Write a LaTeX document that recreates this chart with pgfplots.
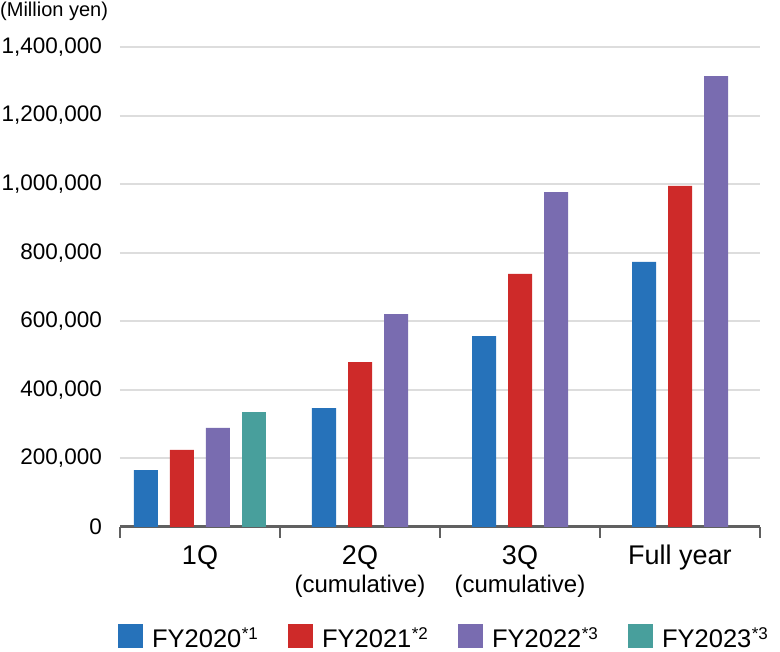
\documentclass[border=0pt]{standalone}
\usepackage{fontspec}
\setmainfont{Liberation Sans}
\usepackage{pgfplots}
\pgfplotsset{compat=1.18}

\definecolor{fyblue}{HTML}{2672BA}
\definecolor{fyred}{HTML}{CE2A29}
\definecolor{fypurple}{HTML}{796CB0}
\definecolor{fyteal}{HTML}{489F9C}
\definecolor{axisgray}{HTML}{606060}
\definecolor{gridgray}{HTML}{DDDDDD}

\newcommand{\cat}[1]{{\fontsize{27}{27}\selectfont #1}}
\newcommand{\sub}[1]{{\fontsize{24}{24}\selectfont #1}}
\newcommand{\leg}[2]{\makebox[136pt][l]{\fontsize{25.5}{26}\selectfont #1\kern0.5pt\raisebox{8pt}{\fontsize{17}{17}\selectfont #2}}}

\begin{document}
\begin{tikzpicture}
\useasboundingbox (0,0) rectangle (780pt,652pt);
\begin{axis}[
    at={(120pt,125pt)}, anchor=south west,
    scale only axis,
    width=640pt, height=480pt,
    xmin=-0.5, xmax=3.5,
    ymin=0, ymax=1400000,
    ytick={0,200000,...,1400000},
    scaled y ticks=false,
    /pgf/number format/.cd, fixed, 1000 sep={,}, assume math mode=true,
    /pgfplots/.cd,
    yticklabel style={font=\fontsize{22.5}{22.5}\selectfont, anchor=east, inner sep=0pt, xshift=-18pt},
    ymajorgrids,
    grid style={gridgray, line width=2pt},
    axis x line*=bottom,
    axis y line*=left,
    y axis line style={draw=none},
    x axis line style={-, axisgray, line width=3pt},
    major tick length=0pt,
    xtick={0,1,2,3},
    xticklabels={\cat{1Q}, {\cat{2Q}\\[5pt]\sub{(cumulative)}}, {\cat{3Q}\\[5pt]\sub{(cumulative)}}, \cat{Full year}},
    xticklabel style={anchor=north, align=center, inner sep=0pt, yshift=-18pt},
    extra x ticks={-0.5,0.5,1.5,2.5,3.5},
    extra x tick labels={},
    extra x tick style={major tick length=11pt, tick align=outside, tick style={axisgray, line width=2pt}},
    clip=false,
    legend columns=4,
    legend style={at={(axis description cs:-0.003,-0.2542)}, anchor=south west,
        draw=none, inner sep=0pt, outer sep=0pt,
        nodes={inner sep=0pt},
        /tikz/every odd column/.append style={column sep=9pt}},
    legend image code/.code={\fill[#1] (0pt,-10pt) rectangle (25pt,14pt);},
]
\addplot[ybar, bar width=24pt, bar shift=0pt, fill=fyblue, draw=none]
    coordinates {(-0.3375,166000) (0.775,347000) (1.775,557000) (2.775,773000)};
\addlegendentry{\leg{FY2020}{*1}}
\addplot[ybar, bar width=24pt, bar shift=0pt, fill=fyred, draw=none]
    coordinates {(-0.1125,225000) (1.0,481000) (2.0,738000) (3.0,995000)};
\addlegendentry{\leg{FY2021}{*2}}
\addplot[ybar, bar width=24pt, bar shift=0pt, fill=fypurple, draw=none]
    coordinates {(0.1125,289000) (1.225,621000) (2.225,977000) (3.225,1315000)};
\addlegendentry{\leg{FY2022}{*3}}
\addplot[ybar, bar width=24pt, bar shift=0pt, fill=fyteal, draw=none]
    coordinates {(0.3375,335000)};
\addlegendentry{\leg{FY2023}{*3}}
\node[anchor=base west, inner sep=0pt, font=\fontsize{20}{20}\selectfont]
    at (axis description cs:-0.1875,1.0625) {(Million yen)};
\end{axis}
\end{tikzpicture}
\end{document}
